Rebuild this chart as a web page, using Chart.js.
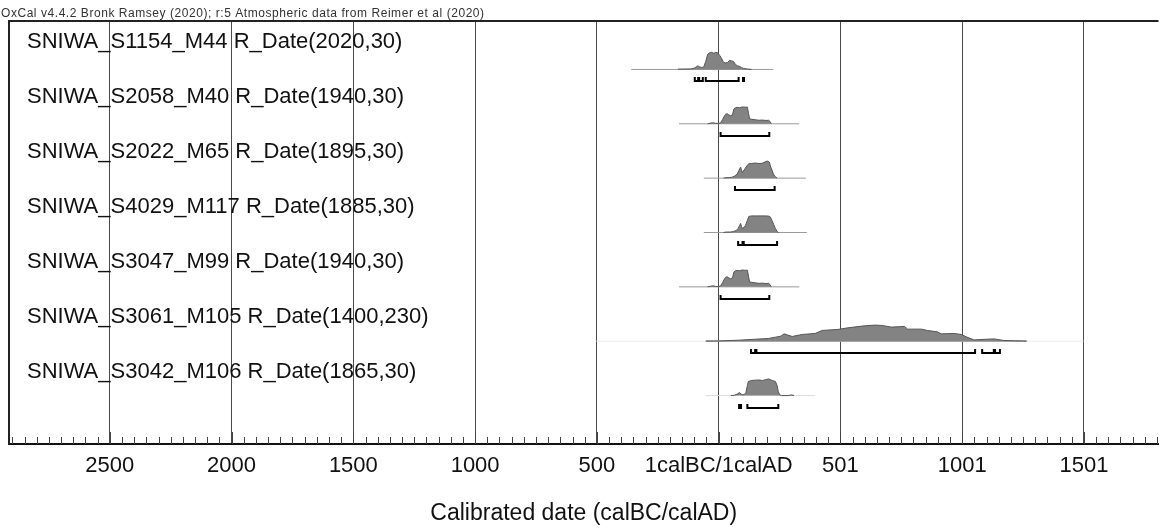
<!DOCTYPE html>
<html>
<head>
<meta charset="utf-8">
<script src="https://cdn.jsdelivr.net/npm/chart.js@4.4.0/dist/chart.umd.min.js"></script>
<style>
  html, body { margin: 0; padding: 0; background: #fff; }
  #wrap { width: 1166px; height: 528px; position: relative; }
</style>
</head>
<body>
<div id="wrap"><canvas id="chart"></canvas></div>
<script>
// Header text and row labels (top to bottom)
const headerText = 'OxCal v4.4.2 Bronk Ramsey (2020); r:5 Atmospheric data from Reimer et al (2020)';
const rowLabels = [
  'SNIWA_S1154_M44 R_Date(2020,30)',
  'SNIWA_S2058_M40 R_Date(1940,30)',
  'SNIWA_S2022_M65 R_Date(1895,30)',
  'SNIWA_S4029_M117 R_Date(1885,30)',
  'SNIWA_S3047_M99 R_Date(1940,30)',
  'SNIWA_S3061_M105 R_Date(1400,230)',
  'SNIWA_S3042_M106 R_Date(1865,30)'
];

// Calibrated distributions: year (BC negative, 0 = 1calBC/1calAD) and relative probability
const yearsS1154 = [-167, -114, -98, -90, -86, -78, -70, -61, -53, -45, -37, -29, -20, -12, -4, 4, 12, 20, 29, 37, 45, 53, 61, 69, 78, 86, 94, 102, 118, 135];
const probS1154  = [0.3, 0.5, 1.5, 3, 3.5, 2.5, 2, 2.5, 8, 15, 16.5, 17, 16, 17, 16.5, 14, 11, 7, 6.5, 7, 9, 8.5, 8, 5, 3.5, 3, 2, 1, 0.4, 0];

// S2058 and S3047 have the same date (1940,30)
const years1940 = [-45, -33, -20, -12, 0, 8, 16, 24, 29, 35, 41, 49, 57, 63, 70, 76, 86, 97, 108, 118, 123, 127, 135, 151, 165, 178, 195, 205, 212, 216];
const prob1940  = [0, 0.7, 1, 0.4, 0.3, 1, 4, 8, 9.5, 10, 9, 8, 9, 15, 16, 16.3, 16, 16.7, 16.5, 16.5, 10, 5, 4.5, 4, 3.5, 3.7, 3.3, 3.5, 2, 0];

const yearsS2022 = [20, 29, 45, 56, 65, 76, 84, 90, 94, 97, 104, 110, 118, 124, 135, 151, 165, 178, 190, 199, 208, 214, 219, 225, 230, 240];
const probS2022  = [0, 0.4, 0.5, 1, 2, 4, 8, 11, 8, 5.5, 8, 10, 13, 14.3, 14.5, 15, 14.5, 14.7, 16, 17, 16, 11, 8, 4, 2, 0];

const yearsS4029 = [20, 29, 50, 61, 72, 80, 86, 90, 94, 97, 104, 110, 118, 124, 135, 151, 170, 190, 205, 212, 219, 226, 233, 240, 246];
const probS4029  = [0, 0.4, 0.5, 1, 2, 4, 7, 9, 6, 4, 5, 7, 12, 16, 16.5, 16.5, 16.5, 16.5, 16.3, 15.5, 12, 8, 4, 1, 0];

const yearsS3061 = [-53, 0, 82, 151, 204, 233, 255, 269, 285, 302, 343, 396, 425, 490, 531, 588, 641, 669, 710, 763, 776, 792, 833, 857, 898, 914, 967, 996, 1020, 1049, 1102, 1131, 1172, 1220, 1265];
const probS3061  = [0.2, 0.3, 1, 2, 2.7, 4, 5, 7.3, 6, 4.7, 6.7, 7.7, 10.7, 11.7, 13.3, 15, 16, 15.7, 14, 14.7, 12, 12, 12, 10.7, 9.3, 7.3, 7.7, 6.7, 4, 1.3, 2, 2.3, 0.7, 0.4, 0.2];

const yearsS3042 = [50, 65, 76, 86, 92, 97, 105, 112, 118, 122, 135, 151, 165, 180, 192, 205, 220, 233, 240, 245, 250, 257, 285, 300, 310];
const probS3042  = [0, 0.3, 1.5, 3, 1.5, 0.8, 1, 3, 10, 14, 15, 15.3, 15.5, 15, 15.7, 16.5, 15, 14, 10, 4, 1, 0, 0, 0.7, 0];

// Extent of each row's baseline, and the faint outer extent
const baselineRanges = [[-359, 224], [-163, 331], [-61, 358], [-61, 362], [-163, 331], [-53, 1265], [-53, 396]];
const faintRanges    = [null, null, null, null, null, [-502, 1498], null];

// 95.4% probability ranges
const rangesS1154 = [[-98, -84], [-80, -65], [-53, 82], [100, 104]];
const ranges1940  = [[8, 208]];
const rangesS2022 = [[67, 230]];
const rangesS4029 = [[80, 98], [103, 240]];
const rangesS3061 = [[133, 150], [155, 1053], [1082, 1130], [1135, 1155]];
const rangesS3042 = [[84, 92], [118, 245]];

const distYears = [yearsS1154, years1940, yearsS2022, yearsS4029, years1940, yearsS3061, yearsS3042];
const distProbs = [probS1154, prob1940, probS2022, probS4029, prob1940, probS3061, probS3042];
const distRanges = [rangesS1154, ranges1940, rangesS2022, rangesS4029, ranges1940, rangesS3061, rangesS3042];

const xMin = -2914;
const xMax = 1806;
const probScale = 1 / 54; // probability units to row units
const fontFamily = "'Liberation Sans', Arial, sans-serif";

const datasets = [];
rowLabels.forEach((label, i) => {
  const row = i + 1;
  datasets.push({
    label: label,
    data: distYears[i].map((yr, k) => ({ x: yr, y: row - distProbs[i][k] * probScale })),
    borderColor: '#555',
    borderWidth: 1,
    backgroundColor: '#838383',
    fill: { value: row },
    pointRadius: 0,
    tension: 0,
    order: 1
  });
  datasets.push({
    label: label + ' base',
    data: [{ x: baselineRanges[i][0], y: row }, { x: baselineRanges[i][1], y: row }],
    borderColor: i === 6 ? '#dcdcdc' : '#9a9a9a',
    borderWidth: 1,
    pointRadius: 0,
    fill: false,
    order: 2
  });
  if (faintRanges[i]) {
    datasets.push({
      label: label + ' faint',
      data: [{ x: faintRanges[i][0], y: row }, { x: faintRanges[i][1], y: row }],
      borderColor: '#ececec',
      borderWidth: 1,
      pointRadius: 0,
      fill: false,
      order: 3
    });
  }
});

// Header, frame, inside ticks, row labels and range brackets
const oxcalPlugin = {
  id: 'oxcal',
  afterDraw(chart) {
    const ctx = chart.ctx;
    const area = chart.chartArea;
    const xs = chart.scales.x;
    const ys = chart.scales.y;
    ctx.save();

    // header
    ctx.fillStyle = '#333';
    ctx.font = '12px ' + fontFamily;
    ctx.letterSpacing = '0.55px';
    ctx.textBaseline = 'alphabetic';
    ctx.textAlign = 'left';
    ctx.fillText(headerText, 1, 17);
    ctx.letterSpacing = '0px';

    // frame (left and top)
    ctx.strokeStyle = '#222';
    ctx.lineWidth = 2;
    ctx.beginPath();
    ctx.moveTo(area.left, area.bottom);
    ctx.lineTo(area.left, area.top);
    ctx.lineTo(area.right, area.top);
    ctx.stroke();

    // ticks inside the plot along the axis
    ctx.strokeStyle = '#444';
    ctx.lineWidth = 1;
    xs.ticks.forEach(t => {
      const px = Math.round(xs.getPixelForValue(t.value)) + 0.5;
      const len = t.value % 500 === 0 ? 12 : 7;
      ctx.beginPath();
      ctx.moveTo(px, area.bottom);
      ctx.lineTo(px, area.bottom - len);
      ctx.stroke();
    });

    // row labels, evenly spaced from the top of the frame
    ctx.fillStyle = '#111';
    ctx.font = '22px ' + fontFamily;
    ctx.textBaseline = 'middle';
    rowLabels.forEach((label, i) => {
      ctx.fillText(label, area.left + 18, area.top + 21 + i * 55);
    });

    // range brackets
    ctx.strokeStyle = '#000';
    ctx.lineWidth = 2;
    distRanges.forEach((ranges, i) => {
      const py = Math.round(ys.getPixelForValue(i + 1)) + 12;
      ranges.forEach(r => {
        const x1 = xs.getPixelForValue(r[0]);
        const x2 = xs.getPixelForValue(r[1]);
        ctx.beginPath();
        ctx.moveTo(x1, py - 4);
        ctx.lineTo(x1, py);
        ctx.lineTo(x2, py);
        ctx.lineTo(x2, py - 4);
        ctx.stroke();
      });
    });
    ctx.restore();
  }
};

const formatYear = (v) => {
  if (v % 500 !== 0) return '';
  if (v < 0) return String(-v);
  if (v === 0) return '1calBC/1calAD';
  return String(v + 1);
};

new Chart(document.getElementById('chart').getContext('2d'), {
  type: 'line',
  data: { datasets: datasets },
  options: {
    responsive: true,
    maintainAspectRatio: false,
    animation: false,
    devicePixelRatio: 1,
    layout: { padding: { left: 9, right: 0, top: 21, bottom: 0 } },
    plugins: {
      legend: { display: false },
      title: { display: false },
      tooltip: { enabled: false }
    },
    scales: {
      x: {
        type: 'linear',
        min: xMin,
        max: xMax,
        afterBuildTicks: (scale) => {
          const ticks = [];
          for (let v = -2900; v <= 1800; v += 50) ticks.push({ value: v });
          scale.ticks = ticks;
        },
        grid: {
          drawTicks: false,
          color: (c) => (c.tick && c.tick.value % 500 === 0) ? '#4a4a4a' : 'rgba(0,0,0,0)',
          lineWidth: 1
        },
        border: { display: true, color: '#111', width: 2 },
        ticks: {
          autoSkip: false,
          maxRotation: 0,
          padding: 9,
          color: '#111',
          font: { size: 22, family: fontFamily },
          callback: formatYear
        },
        title: {
          display: true,
          text: 'Calibrated date (calBC/calAD)',
          color: '#111',
          font: { size: 23, family: fontFamily },
          padding: { top: 11, bottom: 1 }
        }
      },
      y: {
        type: 'linear',
        display: false,
        reverse: true,
        min: 0.109,
        max: 7.891
      }
    }
  },
  plugins: [oxcalPlugin]
});
</script>
</body>
</html>
